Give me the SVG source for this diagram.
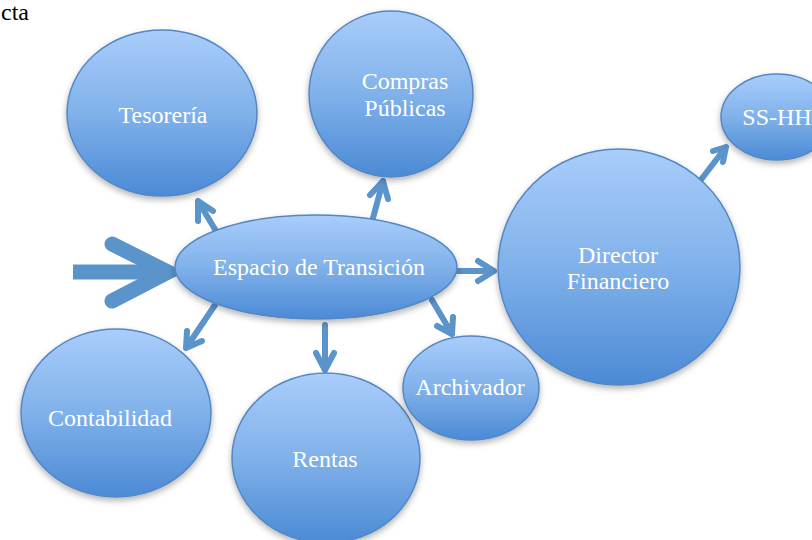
<svg xmlns="http://www.w3.org/2000/svg" width="812" height="540" viewBox="0 0 812 540">
<defs>
<linearGradient id="g" x1="0" y1="0" x2="0" y2="1">
<stop offset="0" stop-color="#a9cdfb"/>
<stop offset="0.5" stop-color="#80b1ea"/>
<stop offset="1" stop-color="#4b8ad5"/>
</linearGradient>
<filter id="sh" x="-20%" y="-20%" width="140%" height="150%">
<feDropShadow dx="0" dy="3" stdDeviation="3" flood-color="#000" flood-opacity="0.3"/>
</filter>
</defs>
<style>
.n{fill:url(#g);stroke:#5487c3;stroke-width:1.5;filter:url(#sh)}
.t{font-family:"Liberation Serif","Times New Roman",serif;font-size:24px;fill:#fff;text-anchor:middle}
.a{fill:none;stroke:#5b93cb;stroke-width:6;stroke-linecap:round;stroke-linejoin:round}
.big{fill:none;stroke:#5b93cb;stroke-width:15;stroke-linejoin:miter}
</style>
<rect width="812" height="540" fill="#fff"/>
<text x="1" y="20" font-family="Liberation Serif, Times New Roman, serif" font-size="24" fill="#000">cta</text>
<g id="connectors">
<path class="big" d="M73 272 H162" style="stroke-linecap:butt"/>
<path class="big" d="M112 244 L168 272 L112 301" style="stroke-linecap:round"/>
<path class="a" d="M216 231 L198 201 M198 221 L198 201 L213 211"/>
<path class="a" d="M373 218 L383 181 M370 195 L383 181 L388 199"/>
<path class="a" d="M455 271 H494 M478 261 L494 271 L478 281"/>
<path class="a" d="M700 181 L726 147 M713 151 L726 147 L723 162"/>
<path class="a" d="M432 300 L452 334 M437 326 L452 334 L453 317"/>
<path class="a" d="M325 325 V370 M316 353 L325 370 L334 353"/>
<path class="a" d="M215 305 L186 348 M187 331 L186 348 L202 341"/>
</g>
<g id="tesoreria"><ellipse class="n" cx="162" cy="113" rx="95" ry="83"/><text class="t" x="163" y="123">Tesorería</text></g>
<g id="compras"><ellipse class="n" cx="391" cy="94" rx="82" ry="83"/><text class="t" x="405" y="89">Compras</text><text class="t" x="405" y="116">Públicas</text></g>
<g id="sshh"><ellipse class="n" cx="777" cy="117" rx="56" ry="43"/><text class="t" x="777" y="125">SS-HH</text></g>
<g id="espacio"><ellipse class="n" cx="316" cy="267" rx="141" ry="52"/><text class="t" x="319" y="275">Espacio de Transición</text></g>
<g id="director"><ellipse class="n" cx="619" cy="267" rx="121" ry="118"/><text class="t" x="618" y="263">Director</text><text class="t" x="618" y="289">Financiero</text></g>
<g id="contabilidad"><ellipse class="n" cx="116" cy="413" rx="95" ry="84"/><text class="t" x="110" y="426">Contabilidad</text></g>
<g id="rentas"><ellipse class="n" cx="326" cy="458" rx="94" ry="85"/><text class="t" x="325" y="467">Rentas</text></g>
<g id="archivador"><ellipse class="n" cx="471" cy="388" rx="68" ry="52"/><text class="t" x="470" y="395">Archivador</text></g>
</svg>
